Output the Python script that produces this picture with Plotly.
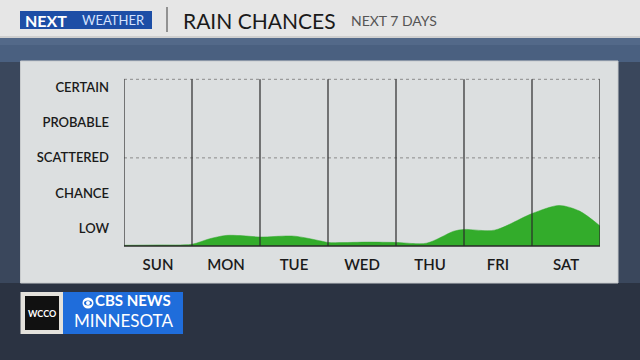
import plotly.graph_objects as go

# ---- data ----
days = ["SUN", "MON", "TUE", "WED", "THU", "FRI", "SAT"]
levels = ["LOW", "CHANCE", "SCATTERED", "PROBABLE", "CERTAIN"]
# time in day units (0 = start of SUN, 7 = end of SAT)
t = [0.0, 0.5, 1.0, 1.25, 1.5, 1.75, 2.0, 2.5, 2.9, 3.0, 3.6, 4.0, 4.45, 4.85,
     5.0, 5.45, 6.0, 6.4, 6.7, 7.0]
# rain chance on level scale (1 = LOW ... 5 = CERTAIN)
chance = [0.52, 0.53, 0.55, 0.70, 0.80, 0.79, 0.755, 0.78, 0.64, 0.60, 0.61,
          0.60, 0.58, 0.92, 0.97, 0.95, 1.42, 1.65, 1.49, 1.07]

W, H = 640, 360
FONT = "Lato"


def px(x):
    return x / W


def py(y):
    return 1 - y / H


fig = go.Figure()
fig.add_trace(go.Scatter(
    x=t, y=chance, mode="lines", line=dict(color="#2fa82a", width=0.5, shape="spline", smoothing=0.8),
    fill="tozeroy", fillcolor="#33ac2b", hoverinfo="skip", showlegend=False))

shapes = []
# background bands
shapes.append(dict(type="rect", xref="paper", yref="paper", x0=0, x1=1, y0=py(62), y1=py(38),
                   fillcolor="#4a6080", line_width=0, layer="below"))
shapes.append(dict(type="rect", xref="paper", yref="paper", x0=0, x1=1, y0=py(45), y1=py(38),
                   fillcolor="#5a7090", line_width=0, layer="below", opacity=0.6))
shapes.append(dict(type="rect", xref="paper", yref="paper", x0=0, x1=1, y0=0, y1=py(283),
                   fillcolor="#2b3342", line_width=0, layer="below"))
# header
shapes.append(dict(type="rect", xref="paper", yref="paper", x0=0, x1=1, y0=py(38), y1=1,
                   fillcolor="#e6e6e6", line_width=0, layer="below"))
shapes.append(dict(type="rect", xref="paper", yref="paper", x0=0, x1=1, y0=py(38), y1=py(36),
                   fillcolor="#cfcfcf", line_width=0, layer="below"))
# panel
shapes.append(dict(type="rect", xref="paper", yref="paper", x0=px(20.5), x1=px(618), y0=py(283), y1=py(61),
                   fillcolor="#dcdfe0", line=dict(color="#c8cbcd", width=1), layer="below"))
# header logo box
shapes.append(dict(type="rect", xref="paper", yref="paper", x0=px(20), x1=px(152), y0=py(29), y1=py(11),
                   fillcolor="#1d4ea6", line_width=0))
shapes.append(dict(type="line", xref="paper", yref="paper", x0=px(167), x1=px(167), y0=py(32), y1=py(7),
                   line=dict(color="#5a5a5a", width=1.2)))
# bottom logo
shapes.append(dict(type="rect", xref="paper", yref="paper", x0=px(20.5), x1=px(63), y0=py(334), y1=py(292),
                   fillcolor="#e4e2dc", line_width=0))
shapes.append(dict(type="rect", xref="paper", yref="paper", x0=px(25), x1=px(59), y0=py(330), y1=py(296),
                   fillcolor="#111111", line_width=0))
shapes.append(dict(type="rect", xref="paper", yref="paper", x0=px(63), x1=px(183), y0=py(334), y1=py(292),
                   fillcolor="#1f6ddb", line_width=0))
shapes.append(dict(type="circle", xref="paper", yref="paper", x0=px(82.5), x1=px(93.5), y0=py(308.5), y1=py(297.5),
                   fillcolor="white", line_width=0))
shapes.append(dict(type="circle", xref="paper", yref="paper", x0=px(84), x1=px(92), y0=py(305.5), y1=py(300.5),
                   fillcolor="#1f6ddb", line_width=0))
shapes.append(dict(type="circle", xref="paper", yref="paper", x0=px(86), x1=px(90), y0=py(305), y1=py(301),
                   fillcolor="white", line_width=0))

# chart lines: day separators above the fill
for i in range(len(days) + 1):
    shapes.append(dict(type="line", xref="x", yref="y domain", x0=i, x1=i, y0=0, y1=1,
                       line=dict(color="#2a2a2a", width=1.2), layer="above"))
# dashed guides at SCATTERED level and at top
shapes.append(dict(type="line", xref="x domain", yref="y", x0=0, x1=1,
                   y0=levels.index("SCATTERED") + 1, y1=levels.index("SCATTERED") + 1,
                   line=dict(color="#8a8a8a", width=1, dash="dot"), layer="below"))
shapes.append(dict(type="line", xref="x domain", yref="y domain", x0=0, x1=1, y0=1, y1=1,
                   line=dict(color="#8a8a8a", width=1, dash="dot"), layer="below"))
shapes.append(dict(type="line", xref="x domain", yref="y domain", x0=0, x1=1, y0=0, y1=0,
                   line=dict(color="#2a2a2a", width=1.5), layer="above"))

annotations = [
    dict(text="<b>NEXT</b>", x=px(23), y=py(20), xanchor="left", yanchor="middle",
         font=dict(family=FONT, size=16, color="white")),
    dict(text="WEATHER", x=px(80), y=py(20), xanchor="left", yanchor="middle",
         font=dict(family=FONT, size=13, color="#d5e3ff")),
    dict(text="RAIN CHANCES", x=px(181), y=py(20), xanchor="left", yanchor="middle",
         font=dict(family=FONT, size=21, color="#1a1a1a")),
    dict(text="NEXT 7 DAYS", x=px(349), y=py(20), xanchor="left", yanchor="middle",
         font=dict(family=FONT, size=14, color="#555555")),
    dict(text="<b>WCCO</b>", x=px(42), y=py(313), xanchor="center", yanchor="middle",
         font=dict(family=FONT, size=9, color="white")),
    dict(text="<span style='font-size:15px'><b>\u2003\u2002CBS NEWS</b></span><br>"
              "<span style='font-size:17px'>MINNESOTA</span>",
         x=px(123), y=py(310.5), xanchor="center", yanchor="middle", align="center",
         font=dict(family=FONT, size=16, color="white")),
]
for a in annotations:
    a.update(xref="paper", yref="paper", showarrow=False)

fig.update_layout(
    width=W, height=H, margin=dict(l=0, r=0, t=0, b=0),
    paper_bgcolor="#3a475c", plot_bgcolor="rgba(0,0,0,0)",
    shapes=shapes, annotations=annotations, showlegend=False,
    xaxis=dict(domain=[px(124), px(600)], range=[0, len(days)],
               tickvals=[i + 0.5 for i in range(len(days))], ticktext=days,
               showgrid=False, zeroline=False, showline=False, ticks="",
               tickfont=dict(family=FONT, size=15, color="#1a1a1a", weight=600), ticklabelstandoff=8),
    yaxis=dict(domain=[py(246), py(79.3)], range=[0.5, 5.23],
               tickvals=list(range(1, len(levels) + 1)), ticktext=levels,
               showgrid=False, zeroline=False, showline=False, ticks="",
               tickfont=dict(family=FONT, size=13, color="#1a1a1a", weight=600), ticklabelstandoff=14),
)

fig.write_html("out.html", config={"displayModeBar": False},
               post_script="document.body.style.margin='0';document.body.style.overflow='hidden';")
